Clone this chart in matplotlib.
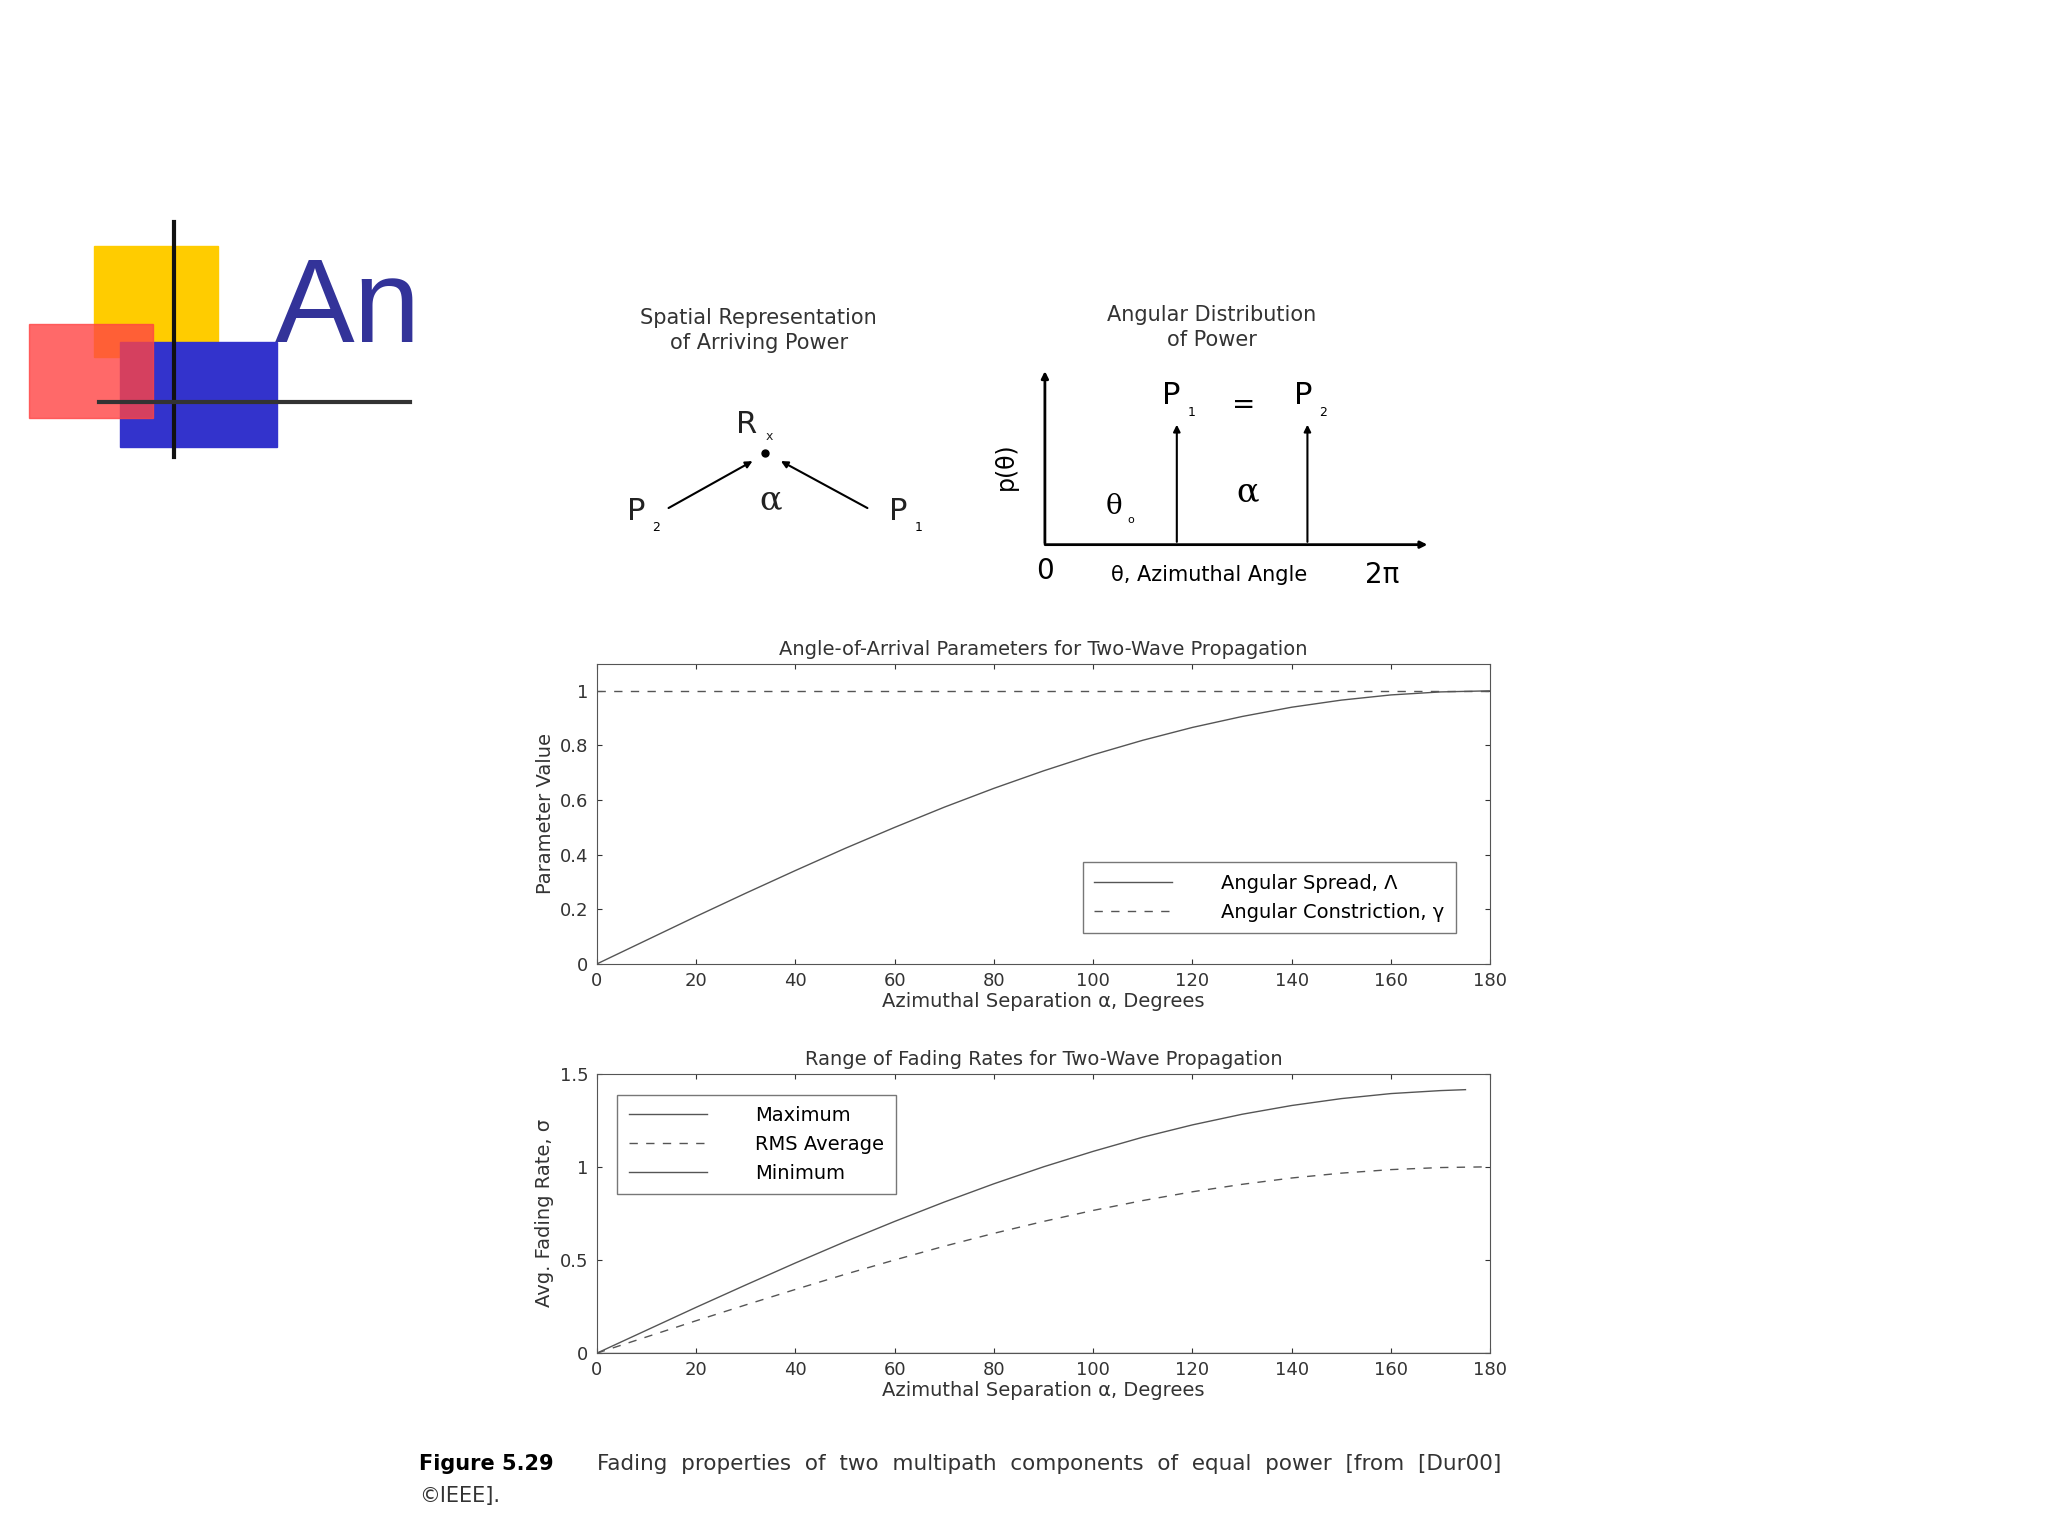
import matplotlib.pyplot as plt
from matplotlib.patches import Rectangle

W, H = 1568, 1176  # layout reference size

alpha = [0, 10, 20, 30, 40, 50, 60, 70, 80, 90, 100, 110, 120, 130, 140, 150, 160, 170, 180]
spread = [0, 0.087, 0.174, 0.259, 0.342, 0.423, 0.5, 0.574, 0.643, 0.707, 0.766, 0.819,
          0.866, 0.906, 0.940, 0.966, 0.985, 0.996, 1.0]
constriction = [1.0] * len(alpha)
fade_max = [0, 0.123, 0.246, 0.366, 0.484, 0.598, 0.707, 0.811, 0.909, 1.0, 1.083,
            1.159, 1.225, 1.282, 1.329, 1.366, 1.393, 1.409, 1.414]
fade_rms = spread
fade_min = [0.0] * len(alpha)

fig = plt.figure(figsize=(20.48, 15.36), dpi=100)
plt.rcParams['font.family'] = ['DejaVu Sans']
gray = '#555555'


def fx(x):
    return x / W


def fy(y):
    return 1 - y / H


# slide overlay
ov = fig.add_axes([0, 0, 1, 1])
ov.set_xlim(0, W)
ov.set_ylim(H, 0)
ov.axis('off')
ov.add_patch(Rectangle((72, 188), 95, 85, color='#ffcc00', zorder=1))
ov.add_patch(Rectangle((92, 262), 120, 80, color='#3333cc', zorder=1))
ov.add_patch(Rectangle((22, 248), 95, 72, color='#ff4444', alpha=0.8, zorder=2))
ov.plot([133, 133], [170, 350], color='#111111', lw=3, zorder=3)
ov.plot([76, 314], [308, 308], color='#333333', lw=3, zorder=3)
ov.text(210, 262, 'An', fontsize=86, color='#333399', fontfamily='Liberation Sans', zorder=4)

# spatial diagram
ov.text(581, 253, 'Spatial Representation\nof Arriving Power', ha='center', va='center',
        fontsize=15, color='#333333', linespacing=1.3)
ov.text(572, 325, 'R', fontsize=22, ha='center', va='center', color='#222222')
ov.text(589, 334, 'x', fontsize=9, ha='center', va='center', color='#222222')
ov.plot([586], [347], 'o', color='k', ms=5)
ov.annotate('', xy=(578, 352), xytext=(510, 390), arrowprops=dict(arrowstyle='-|>', color='k', lw=1.5))
ov.annotate('', xy=(596, 352), xytext=(666, 390), arrowprops=dict(arrowstyle='-|>', color='k', lw=1.5))
ov.text(590, 383, 'α', fontsize=24, ha='center', va='center', fontfamily='DejaVu Serif', color='#222222')
ov.text(487, 392, 'P', fontsize=22, ha='center', va='center', color='#222222')
ov.text(502, 404, '2', fontsize=9, ha='center', va='center')
ov.text(688, 392, 'P', fontsize=22, ha='center', va='center', color='#222222')
ov.text(703, 404, '1', fontsize=9, ha='center', va='center')

# angular distribution diagram
ov.text(928, 251, 'Angular Distribution\nof Power', ha='center', va='center',
        fontsize=15, color='#333333', linespacing=1.3)
ov.annotate('', xy=(800, 282), xytext=(800, 418), arrowprops=dict(arrowstyle='-|>', color='k', lw=2))
ov.annotate('', xy=(1095, 417), xytext=(798, 417), arrowprops=dict(arrowstyle='-|>', color='k', lw=2))
ov.annotate('', xy=(901, 323), xytext=(901, 417), arrowprops=dict(arrowstyle='-|>', color='k', lw=1.5))
ov.annotate('', xy=(1001, 323), xytext=(1001, 417), arrowprops=dict(arrowstyle='-|>', color='k', lw=1.5))
ov.text(770, 357, 'p(θ)', fontsize=17, rotation=90, ha='center', va='center')
ov.text(897, 303, 'P', fontsize=22, ha='center', va='center')
ov.text(912, 316, '1', fontsize=9, ha='center', va='center')
ov.text(952, 310, '=', fontsize=20, ha='center', va='center')
ov.text(998, 303, 'P', fontsize=22, ha='center', va='center')
ov.text(1013, 316, '2', fontsize=9, ha='center', va='center')
ov.text(853, 388, 'θ', fontsize=20, ha='center', va='center', fontfamily='DejaVu Serif')
ov.text(866, 398, 'o', fontsize=8, ha='center', va='center')
ov.text(955, 377, 'α', fontsize=24, ha='center', va='center', fontfamily='DejaVu Serif')
ov.text(800, 437, '0', fontsize=20, ha='center', va='center')
ov.text(926, 440, 'θ, Azimuthal Angle', fontsize=15, ha='center', va='center')
ov.text(1058, 440, '2π', fontsize=20, ha='center', va='center')

# caption
ov.text(321, 1121, 'Figure 5.29', fontsize=15, fontweight='bold', va='center')
ov.text(457, 1121, 'Fading  properties  of  two  multipath  components  of  equal  power  [from  [Dur00]',
        fontsize=15.5, va='center', color='#333333')
ov.text(321, 1145, '©IEEE].', fontsize=15, va='center', color='#333333')


def style(ax):
    ax.tick_params(direction='in', labelsize=13, colors='#333333', top=True, right=True,
                   labeltop=False, labelright=False, pad=6)
    for s in ax.spines.values():
        s.set_color(gray)
    ax.set_xlim(0, 180)
    ax.set_xticks(range(0, 181, 20))
    ax.set_xlabel('Azimuthal Separation α, Degrees', fontsize=14, color='#333333', labelpad=1)


ax1 = fig.add_axes([fx(457), fy(738), fx(1141 - 457), (738 - 508) / H])
ax1.plot(alpha, spread, color=gray, lw=1, label='Angular Spread, Λ')
ax1.plot(alpha, constriction, color=gray, lw=1, ls=(0, (6, 6)), label='Angular Constriction, γ')
ax1.set_ylim(0, 1.1)
ax1.set_yticks([0, 0.2, 0.4, 0.6, 0.8, 1])
ax1.set_yticklabels(['0', '0.2', '0.4', '0.6', '0.8', '1'])
ax1.set_ylabel('Parameter Value', fontsize=14, color='#333333')
ax1.set_title('Angle-of-Arrival Parameters for Two-Wave Propagation', fontsize=14, color='#333333')
style(ax1)
ax1.legend(loc='lower right', fontsize=14, fancybox=False, edgecolor=gray, handlelength=4,
           handletextpad=2.5, borderpad=0.6, bbox_to_anchor=(0.972, 0.07))

ax2 = fig.add_axes([fx(457), fy(1036), fx(1141 - 457), (1036 - 822) / H])
ax2.plot(alpha[:-1] + [175], fade_max[:-1] + [1.414], color=gray, lw=1, label='Maximum')
ax2.plot(alpha, fade_rms, color=gray, lw=1, ls=(0, (6, 6)), label='RMS Average')
ax2.plot(alpha, fade_min, color=gray, lw=1, label='Minimum')
ax2.set_ylim(0, 1.5)
ax2.set_yticks([0, 0.5, 1, 1.5])
ax2.set_yticklabels(['0', '0.5', '1', '1.5'])
ax2.set_ylabel('Avg. Fading Rate, σ', fontsize=14, color='#333333')
ax2.set_title('Range of Fading Rates for Two-Wave Propagation', fontsize=14, color='#333333')
style(ax2)
ax2.legend(loc='upper left', fontsize=14, fancybox=False, edgecolor=gray, handlelength=4,
           handletextpad=2.5, borderpad=0.6, bbox_to_anchor=(0.012, 0.96))

fig.savefig('out.png', dpi=100)
